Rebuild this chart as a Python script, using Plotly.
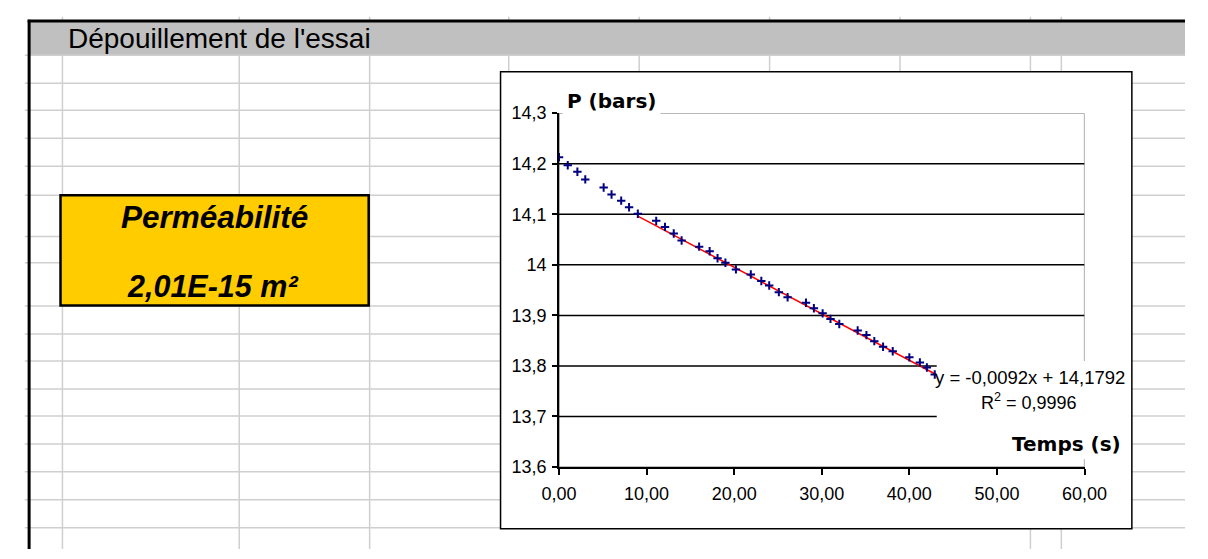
import plotly.graph_objects as go

# ---------------- data ----------------
time_s = [0.0, 1.0, 2.1, 3.0, 5.1, 6.0, 7.1, 8.0, 9.0,
          11.1, 12.1, 13.1, 14.0, 16.0, 17.2, 18.1, 19.0, 20.2,
          21.9, 23.1, 24.0, 25.1, 26.1, 28.2, 29.1, 30.1, 31.0, 32.0,
          34.1, 35.1, 36.0, 37.0, 38.1, 40.0, 41.2, 42.0, 42.9]
pressure_bar = [14.213, 14.197, 14.184, 14.169, 14.153, 14.139, 14.127, 14.114, 14.101,
                14.087, 14.075, 14.062, 14.048, 14.036, 14.027, 14.013, 14.004, 13.991,
                13.981, 13.968, 13.959, 13.946, 13.936, 13.925, 13.914, 13.904, 13.893, 13.883,
                13.870, 13.861, 13.849, 13.838, 13.829, 13.817, 13.807, 13.797, 13.783]

trend_slope = -0.0092
trend_intercept = 14.1792
trend_t = [9.0, 43.0]

x_ticks = [0, 10, 20, 30, 40, 50, 60]
x_tick_labels = ["0,00", "10,00", "20,00", "30,00", "40,00", "50,00", "60,00"]
y_ticks = [13.6, 13.7, 13.8, 13.9, 14.0, 14.1, 14.2, 14.3]
y_tick_labels = ["13,6", "13,7", "13,8", "13,9", "14", "14,1", "14,2", "14,3"]

header_text = "Dépouillement de l'essai"
box_title = "Perméabilité"
box_value = "2,01E-15 m²"
y_title = "P (bars)"
x_title = "Temps (s)"
eq_text = "y = -0,0092x + 14,1792"
r2_text = "R<sup>2</sup> = 0,9996"

# ---------------- geometry helpers ----------------
W, H = 1208, 559


def px(x):
    return x / W


def py(y):
    return 1 - y / H


ARIAL = "Liberation Sans, Arial, sans-serif"
BOLDF = "DejaVu Sans, Verdana, sans-serif"
GRID = "#CFCFCF"

shapes = []

# spreadsheet grid: columns
col_full = [46, 229, 364, 1048, 1080]
col_part = [508, 643, 778, 913]
for cx in col_full:
    shapes.append(dict(type="line", xref="paper", yref="paper", layer="below",
                       x0=px(cx), x1=px(cx), y0=py(7), y1=py(559),
                       line=dict(color=GRID, width=1.5)))
for cx in col_part:
    shapes.append(dict(type="line", xref="paper", yref="paper", layer="below",
                       x0=px(cx), x1=px(cx), y0=py(7), y1=py(537),
                       line=dict(color=GRID, width=1.5)))
# rows
rows = [47, 76, 104, 133, 162, 192, 235, 262, 307, 336, 364, 393, 421, 450, 479, 508, 537]
for ry in rows:
    shapes.append(dict(type="line", xref="paper", yref="paper", layer="below",
                       x0=px(7), x1=px(1208), y0=py(ry), y1=py(ry),
                       line=dict(color=GRID, width=1.5)))

# header band
shapes.append(dict(type="rect", xref="paper", yref="paper", layer="below",
                   x0=px(12), x1=px(1208), y0=py(12), y1=py(46.5),
                   fillcolor="#C0C0C0", line=dict(width=0)))
# thick outer borders
shapes.append(dict(type="line", xref="paper", yref="paper", layer="below",
                   x0=px(10), x1=px(1208), y0=py(11.5), y1=py(11.5),
                   line=dict(color="black", width=3)))
shapes.append(dict(type="line", xref="paper", yref="paper", layer="below",
                   x0=px(11.5), x1=px(11.5), y0=py(10), y1=py(559),
                   line=dict(color="black", width=3)))
# yellow result box
shapes.append(dict(type="rect", xref="paper", yref="paper", layer="below",
                   x0=px(44), x1=px(363), y0=py(192), y1=py(306.5),
                   fillcolor="#FFCC00", line=dict(color="black", width=2.5)))
# chart area
shapes.append(dict(type="rect", xref="paper", yref="paper", layer="below",
                   x0=px(499.5), x1=px(1153), y0=py(64), y1=py(538),
                   fillcolor="white", line=dict(color="black", width=1.5)))

# plot-area border (gray) and gridlines in data coordinates
shapes.append(dict(type="rect", xref="x", yref="y", layer="below",
                   x0=x_ticks[0], x1=x_ticks[-1], y0=y_ticks[0], y1=y_ticks[-1],
                   line=dict(color="#808080", width=1.3), fillcolor="rgba(0,0,0,0)"))
for gv in y_ticks[1:-1]:
    shapes.append(dict(type="line", xref="x", yref="y", layer="below",
                       x0=x_ticks[0], x1=x_ticks[-1], y0=gv, y1=gv,
                       line=dict(color="black", width=1.5)))

# white area behind the trendline label
shapes.append(dict(type="rect", xref="paper", yref="paper", layer="above",
                   x0=px(951), x1=px(1151), y0=py(364), y1=py(466),
                   fillcolor="white", line=dict(width=0)))

fig = go.Figure()

fig.add_trace(go.Scatter(
    x=trend_t,
    y=[trend_slope * t + trend_intercept for t in trend_t],
    mode="lines", line=dict(color="#FF0000", width=1.5),
    hoverinfo="skip", showlegend=False))

fig.add_trace(go.Scatter(
    x=time_s, y=pressure_bar, mode="markers",
    marker=dict(symbol="cross-thin", size=6, color="#000080",
                line=dict(color="#000080", width=2)),
    showlegend=False))

annotations = [
    dict(text=header_text, x=px(50), y=py(30), xanchor="left", yanchor="middle",
         font=dict(family=ARIAL, size=28, color="black")),
    dict(text="<b><i>" + box_title + "</i></b>", x=px(203.5), y=py(215),
         xanchor="center", yanchor="middle", font=dict(family=ARIAL, size=31.5, color="black")),
    dict(text="<b><i>" + box_value + "</i></b>", x=px(201), y=py(286),
         xanchor="center", yanchor="middle", font=dict(family=ARIAL, size=30.5, color="black")),
    dict(text="<b>" + y_title + "</b>", x=px(614), y=py(94), xanchor="center", yanchor="middle",
         bgcolor="white", borderpad=4, font=dict(family=BOLDF, size=20, color="black")),
    dict(text="<b>" + x_title + "</b>", x=px(1085), y=py(450), xanchor="center", yanchor="middle",
         bgcolor="white", font=dict(family=BOLDF, size=20, color="black")),
    dict(text=eq_text, x=px(1047.5), y=py(381), xanchor="center", yanchor="middle",
         font=dict(family=ARIAL, size=18.5, color="black")),
    dict(text=r2_text, x=px(1046.5), y=py(406), xanchor="center", yanchor="middle",
         font=dict(family=ARIAL, size=18, color="black")),
]
for a in annotations:
    a.update(xref="paper", yref="paper", showarrow=False)

fig.update_layout(
    width=W, height=H,
    margin=dict(l=0, r=0, t=0, b=0),
    paper_bgcolor="white",
    plot_bgcolor="rgba(0,0,0,0)",
    showlegend=False,
    shapes=shapes,
    annotations=annotations,
    xaxis=dict(domain=[px(560), px(1104)], range=[x_ticks[0], x_ticks[-1]],
               tickmode="array", tickvals=x_ticks, ticktext=x_tick_labels,
               showgrid=False, zeroline=False, showline=True,
               linecolor="black", linewidth=1.5,
               ticks="outside", ticklen=6, tickwidth=1.5, tickcolor="black",
               ticklabelstandoff=4,
               tickfont=dict(family=ARIAL, size=18, color="black")),
    yaxis=dict(domain=[py(474), py(107)], range=[y_ticks[0], y_ticks[-1]],
               tickmode="array", tickvals=y_ticks, ticktext=y_tick_labels,
               showgrid=False, zeroline=False, showline=True,
               linecolor="black", linewidth=1.5,
               ticks="outside", ticklen=5, tickwidth=1.5, tickcolor="black",
               ticklabelstandoff=2,
               tickfont=dict(family=ARIAL, size=18, color="black")),
)

fig.write_html(
    "out.html",
    config={"displayModeBar": False},
    post_script="document.documentElement.style.margin='0';"
                "document.body.style.margin='0';document.body.style.padding='0';"
                "document.body.style.overflow='hidden';",
)
